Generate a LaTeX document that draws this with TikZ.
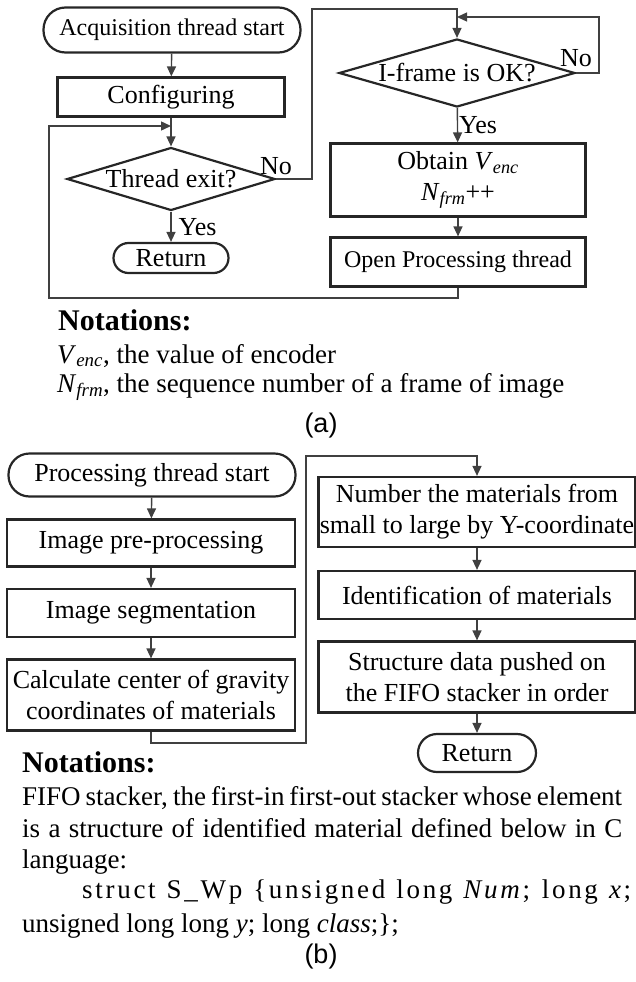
\documentclass[tikz,border=0pt]{standalone}
\usepackage{fontspec}
\setmainfont{Liberation Serif}
\newfontfamily\capfont{Liberation Sans}
\newfontfamily\codefont[LetterSpace=10]{Liberation Serif}
\usetikzlibrary{arrows.meta,shapes.geometric}
\tikzset{
  box/.style={draw=black!85,line width=2.2pt,shape=rectangle,inner sep=0pt,align=center,
    font=\fontsize{26}{31}\selectfont},
  term/.style={box,rounded corners=#1},
  term/.default=20pt,
  decide/.style={box,shape=diamond},
  flow/.style={draw=black!75,line width=1.4pt,-{Triangle[length=10pt,width=9pt]}},
  yesno/.style={inner sep=1pt,font=\fontsize{26}{30}\selectfont},
  note/.style={anchor=base west,inner sep=0pt,font=\fontsize{27}{32}\selectfont},
  head/.style={anchor=base west,inner sep=0pt,font=\fontsize{30}{34}\selectfont\bfseries},
  capt/.style={inner sep=0pt,font=\fontsize{27}{30}\capfont}
}
\begin{document}
\begin{tikzpicture}[x=1pt,y=-1pt]
\useasboundingbox (0,0) rectangle (636,982);
\node [term=22pt,minimum width=257,minimum height=45,font=\fontsize{24}{28}\selectfont,name=astart] at (172,30){Acquisition thread start};
\node [box,minimum width=227,minimum height=39,name=cfg] at (171,97){Configuring};
\node [decide,minimum width=208,minimum height=63,name=texit] at (171,179){\makebox[0pt]{Thread exit?}};
\node [term=15pt,minimum width=115,minimum height=30,name=aret] at (171,258){Return};
\node [decide,minimum width=236,minimum height=68,name=iframe] at (457,73){\makebox[0pt]{I-frame is OK?}};
\node [box,minimum width=255,minimum height=73,name=obtain] at (458,180){Obtain \textit{V}\textsubscript{\textit{enc}}\\\textit{N}\textsubscript{\textit{frm}}++};
\node [box,minimum width=255,minimum height=49,font=\fontsize{24}{28}\selectfont,name=openp] at (458,262){Open Processing thread};
\coordinate (atop) at (312,9);
\coordinate (anoloop) at (599,17);
\coordinate (anojoin) at (457,17);
\coordinate (abot) at (49,298);
\coordinate (aback) at (171,126);
\draw[flow] (astart)--(cfg);
\draw[flow] (cfg)--(texit);
\draw[flow] (texit)--node[yesno,right,xshift=6pt,name=texityes]{Yes}(aret);
\draw[flow] (texit.east)-|(atop)-|(iframe.north);
\node [yesno,anchor=south,name=texitno] at ([yshift=3pt]texit.east){No};
\draw[flow] (iframe.east)-|(anoloop)--(anojoin);
\node [yesno,anchor=south,name=iframeno] at ([yshift=5pt]iframe.east){No};
\draw[flow] (iframe)--node[yesno,right,name=iframeyes]{Yes}(obtain);
\draw[flow] (obtain)--(openp);
\draw[flow] (openp.south)|-(abot)|-(aback);
\node [head,name=anota] at (58,330){Notations:};
\node [note,name=venc] at (57,363){\textit{V}\textsubscript{\textit{enc}}, the value of encoder};
\node [note,name=nfrm] at (57,392){\textit{N}\textsubscript{\textit{frm}}, the sequence number of a frame of image};
\node [capt,name=capa] at (321,426){(a)};
\node [term=21pt,minimum width=287,minimum height=43,name=bstart] at (152,475){Processing thread start};
\node [box,minimum width=288,minimum height=47,name=prep] at (151,543){Image pre-processing};
\node [box,minimum width=288,minimum height=48,name=seg] at (151,613){Image segmentation};
\node [box,minimum width=288,minimum height=71,name=grav] at (151,695){Calculate center of gravity\\coordinates of materials};
\node [box,minimum width=317,minimum height=70,name=num] at (477,512){Number the materials from\\small to large by Y-coordinate};
\node [box,minimum width=317,minimum height=48,name=ident] at (477,595){Identification of materials};
\node [box,minimum width=317,minimum height=71,name=push] at (477,677){Structure data pushed on\\the FIFO stacker in order};
\node [term=19pt,minimum width=118,minimum height=38,name=bret] at (477,753){Return};
\coordinate (bbot) at (306,743);
\coordinate (btop) at (306,456);
\draw[flow] (bstart)--(prep);
\draw[flow] (prep)--(seg);
\draw[flow] (seg)--(grav);
\draw[flow] (grav.south)|-(bbot)--(btop)-|(num.north);
\draw[flow] (num)--(ident);
\draw[flow] (ident)--(push);
\draw[flow] (push)--(bret);
\node [head,name=bnota] at (22,772){Notations:};
\node [note,name=fifoa] at (22,805){\makebox[600pt][s]{FIFO stacker, the first-in first-out stacker whose element}};
\node [note,name=fifob] at (22,837){\makebox[600pt][s]{is a structure of identified material defined below in C}};
\node [note,name=fifoc] at (22,868){language:};
\node [note,name=fifod] at (82,898){\makebox[549pt][s]{\codefont struct S\_Wp \{unsigned long \textit{Num}; long \textit{x};}};
\node [note,name=fifoe] at (22,932){unsigned long long \textit{y}; long \textit{class};\};};
\node [capt,name=capb] at (321,957){(b)};
\end{tikzpicture}
\end{document}
